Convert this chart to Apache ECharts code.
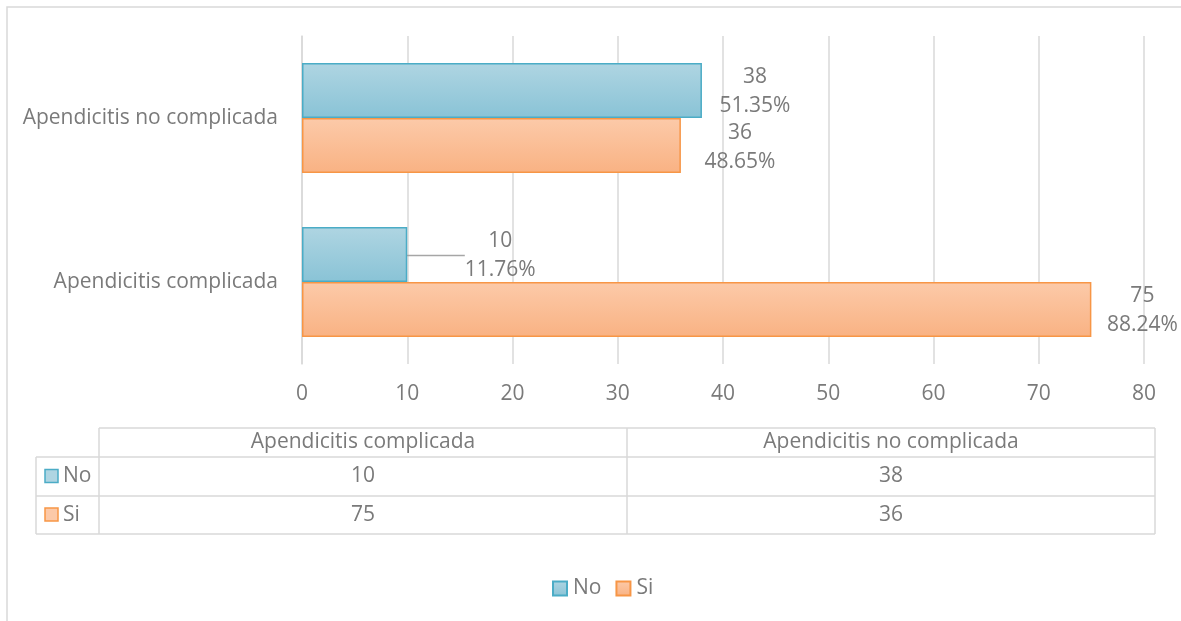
<!DOCTYPE html>
<html><head><meta charset="utf-8">
<script src="https://cdn.jsdelivr.net/npm/echarts@6/dist/echarts.min.js"></script>
<style>html,body{margin:0;padding:0;background:#fff}#c{width:1181px;height:621px}</style>
</head><body><div id="c"></div>
<script>
const categories = ['Apendicitis complicada', 'Apendicitis no complicada'];
const seriesNames = ['No', 'Si'];
const valuesNo = [10, 38];
const valuesSi = [75, 36];
const xTicks = [0, 10, 20, 30, 40, 50, 60, 70, 80];

const FONT = '"Open Sans", sans-serif';
const FS = 21;
const TXT = '#7a7a7a';
const GRID = '#d9d9d9';

const chart = echarts.init(document.getElementById('c'), null, {renderer: 'canvas'});

function pct(v, i) {
  const tot = valuesNo[i] + valuesSi[i];
  return (v / tot * 100).toFixed(2) + '%';
}

// label placement (presentation only)
const labelShift = {
  0: {0: [93, 1], 1: [53, 1]},
  1: {0: [51, 1], 1: [59, 2]}
};

const blueFill = new echarts.graphic.LinearGradient(0, 0, 0, 1, [
  {offset: 0, color: '#afd5e2'}, {offset: 1, color: '#89c3d6'}]);
const orangeFill = new echarts.graphic.LinearGradient(0, 0, 0, 1, [
  {offset: 0, color: '#fccaa9'}, {offset: 1, color: '#f9b283'}]);

function makeSeries(name, vals, fill, border, sIdx) {
  return {
    name: name,
    type: 'bar',
    barGap: '0%',
    barCategoryGap: '33%',
    data: vals.map((v, i) => ({
      value: v,
      labelLine: {show: (sIdx === 0 && i === 0)}
    })),
    itemStyle: {color: fill, borderColor: border, borderWidth: 1.5},
    label: {
      show: true, position: 'right', distance: 0, align: 'center',
      color: TXT, fontFamily: FONT, fontSize: FS, lineHeight: 29,
      formatter: p => p.value + '\n' + pct(p.value, p.dataIndex)
    },
    labelLine: {show: false, lineStyle: {color: '#a6a6a6', width: 1.5}},
    labelLayout: function (params) {
      const s = labelShift[sIdx][params.dataIndex];
      return {dx: s[0], dy: s[1]};
    },
    emphasis: {disabled: true}
  };
}

// Data table built from arrays
const tbl = [];
const L = 36, C0 = 99, C1 = 627, R = 1155;
const Y0 = 428, Y1 = 457, Y2 = 496, Y3 = 534;
const ln = (x1, y1, x2, y2) => ({type: 'line', shape: {x1, y1, x2, y2}, style: {stroke: GRID, lineWidth: 1.5}, silent: true});
tbl.push(ln(C0, Y0, R, Y0), ln(L, Y1, R, Y1), ln(L, Y2, R, Y2), ln(L, Y3, R, Y3));
tbl.push(ln(L, Y1, L, Y3), ln(C0, Y0, C0, Y3), ln(C1, Y0, C1, Y3), ln(R, Y0, R, Y3));
const txt = (x, y, t, align) => ({type: 'text', x, y, style: {text: t, fill: TXT, font: FS + 'px ' + FONT, textAlign: align || 'center', textVerticalAlign: 'middle'}, silent: true});
const colCenters = [(C0 + C1) / 2, (C1 + R) / 2];
categories.forEach((c, i) => tbl.push(txt(colCenters[i], (Y0 + Y1) / 2, c)));
const rows = [[valuesNo, '#afd5e2', '#4bacc6'], [valuesSi, '#fcc9a8', '#f79646']];
const rowMid = [(Y1 + Y2) / 2, (Y2 + Y3) / 2];
rows.forEach((r, k) => {
  tbl.push({type: 'rect', shape: {x: 45, y: rowMid[k] - 7, width: 13, height: 13}, style: {fill: r[1], stroke: r[2], lineWidth: 1.5}, silent: true});
  tbl.push(txt(63, rowMid[k], seriesNames[k], 'left'));
  r[0].forEach((v, i) => tbl.push(txt(colCenters[i], rowMid[k], String(v))));
});
tbl.push({type: 'rect', shape: {x: 7, y: 7, width: 1300, height: 800}, style: {fill: 'none', stroke: GRID, lineWidth: 1.5}, silent: true, z: -1});

chart.setOption({
  backgroundColor: '#fff',
  animation: false,
  textStyle: {fontFamily: FONT},
  grid: {left: 302, right: 37, top: 36, bottom: 257, containLabel: false},
  xAxis: {
    type: 'value', min: xTicks[0], max: xTicks[xTicks.length - 1], interval: 10,
    axisLine: {show: false}, axisTick: {show: false},
    splitLine: {show: true, lineStyle: {color: GRID, width: 1.5}},
    axisLabel: {color: TXT, fontSize: FS, fontFamily: FONT, margin: 20}
  },
  yAxis: {
    type: 'category', data: categories,
    axisLine: {show: true, lineStyle: {color: GRID, width: 1.5}},
    axisTick: {show: false},
    axisLabel: {color: TXT, fontSize: FS, fontFamily: FONT, margin: 24}
  },
  legend: {
    bottom: 17, left: 547, padding: 5, itemWidth: 14, itemHeight: 14, itemGap: 14,
    icon: 'rect',
    textStyle: {color: TXT, fontSize: FS, fontFamily: FONT, padding: [0, 0, 0, 1]},
    data: seriesNames
  },
  series: [
    makeSeries('No', valuesNo, blueFill, '#4bacc6', 0),
    makeSeries('Si', valuesSi, orangeFill, '#f79646', 1)
  ],
  graphic: tbl
});
</script>
</body></html>
